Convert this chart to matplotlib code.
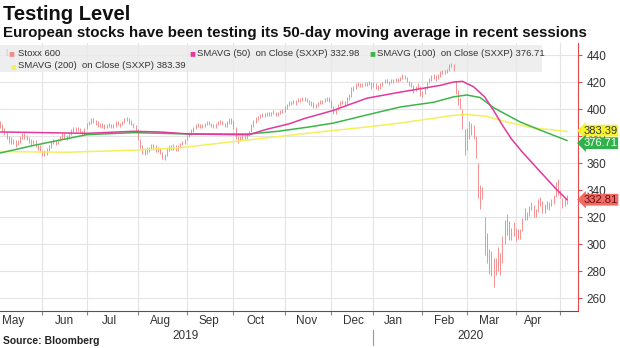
import matplotlib
matplotlib.use("Agg")
import matplotlib.pyplot as plt
import matplotlib.transforms as mtransforms
from matplotlib.patches import Rectangle
import numpy as np
import pandas as pd

plt.rcParams['font.family'] = ['Liberation Sans', 'DejaVu Sans']

# Stoxx 600 daily highs and lows
high = [
    391, 389, 386, 383, 380, 379, 378, 377, 377, 380, 382, 382, 381, 379, 378, 377, 377, 374, 373,  # May 19
    370, 370, 371, 373, 376, 378, 377, 378, 380, 382, 382, 381, 383, 385, 387, 387, 387, 386, 384, 386,  # Jun
    390, 391, 393, 393, 392, 391, 390, 390, 389, 389, 390, 389, 389, 391, 391, 390, 391, 393, 394, 393, 392, 390, 388,  # Jul
    385, 378, 373, 371, 372, 372, 374, 374, 373, 372, 371, 368, 367, 371, 373, 373, 374, 373, 373, 375, 376, 378,  # Aug
    381, 383, 385, 387, 389, 390, 389, 389, 390, 391, 391, 390, 389, 390, 391, 392, 391, 390, 391, 393, 393,  # Sep
    392, 387, 380, 380, 381, 381, 382, 384, 389, 392, 394, 395, 396, 397, 397, 398, 398, 398, 399, 398, 398, 399, 400,  # Oct
    402, 404, 406, 406, 407, 407, 408, 408, 409, 409, 408, 407, 406, 405, 404, 405, 407, 407, 408, 409, 409,  # Nov
    407, 402, 400, 404, 406, 407, 406, 409, 411, 416, 417, 419, 420, 419, 419, 420, 420, 421, 420,  # Dec
    420, 419, 418, 419, 420, 422, 422, 421, 422, 422, 423, 423, 424, 426, 425, 424, 421, 420, 418, 417, 419, 417,  # Jan 20
    413, 416, 420, 423, 425, 426, 425, 426, 428, 429, 429, 430, 433, 434, 433, 421, 414, 408, 400, 385,  # Feb
    386, 391, 390, 388, 380, 360, 344, 342, 320, 308, 296, 295, 290, 290, 298, 293, 306, 318, 322, 317, 312, 316,  # Mar
    312, 311, 311, 319, 327, 324, 328, 331, 329, 326, 333, 335, 332, 330, 332, 331, 333, 336, 346, 348,  # Apr
    340, 334, 334, 336,  # May 20
]
low = [
    386, 384, 381, 378, 375, 374, 374, 372, 373, 375, 378, 378, 377, 375, 373, 374, 372, 370, 368,
    365, 365, 366, 369, 371, 374, 373, 374, 376, 378, 378, 377, 378, 381, 383, 383, 384, 382, 380, 381,
    385, 388, 389, 390, 388, 387, 387, 386, 385, 386, 387, 386, 386, 387, 388, 387, 388, 390, 391, 389, 388, 386, 383,
    377, 371, 367, 366, 367, 368, 370, 370, 368, 368, 367, 363, 362, 365, 369, 370, 370, 369, 369, 371, 373, 374,
    377, 379, 381, 383, 385, 387, 386, 386, 387, 388, 388, 387, 386, 386, 388, 389, 388, 387, 387, 389, 389,
    385, 378, 375, 376, 377, 377, 378, 380, 383, 387, 390, 392, 393, 394, 394, 395, 395, 395, 396, 395, 395, 396, 397,
    398, 400, 402, 403, 404, 403, 405, 405, 406, 406, 405, 403, 402, 401, 401, 402, 404, 404, 405, 406, 405,
    401, 396, 396, 399, 402, 404, 403, 404, 407, 409, 413, 415, 417, 416, 416, 417, 417, 418, 415,
    416, 415, 414, 415, 417, 419, 419, 418, 419, 419, 420, 420, 421, 422, 422, 420, 417, 416, 412, 413, 415, 410,
    409, 411, 415, 419, 421, 422, 421, 422, 424, 426, 426, 427, 428, 431, 428, 411, 403, 400, 385, 366,
    370, 378, 381, 378, 364, 334, 326, 333, 292, 286, 278, 276, 268, 277, 280, 277, 286, 300, 307, 303, 303, 306,
    302, 304, 304, 310, 318, 318, 321, 325, 320, 320, 324, 328, 323, 323, 326, 325, 328, 330, 335, 336,
    334, 327, 328, 330,
]

# moving averages, sampled along the lines (trading-day number, level)
sma50_day = [0, 20, 39, 60, 72, 85, 105, 112, 120, 130, 137, 150, 165, 180, 198, 204, 208, 213, 218, 222, 226, 230, 235, 240, 245, 250, 255]
sma50_val = [383, 382.5, 382, 383.5, 383, 381.5, 381, 381, 385, 389, 393, 399, 408, 412.5, 417.5, 420, 420.5, 416.5, 409, 399, 388, 378, 368, 359, 350, 341, 332.98]
sma100_day = [0, 15, 30, 39, 60, 85, 112, 125, 139, 150, 165, 180, 195, 204, 210, 216, 222, 234, 243, 255]
sma100_val = [367.4, 373, 378, 381, 382.5, 381.5, 381.5, 383.5, 386.7, 389.6, 395.6, 401.5, 405, 409, 410.4, 408.5, 401, 390.4, 384.4, 376.71]
sma200_day = [0, 30, 60, 82, 103, 139, 165, 180, 204, 210, 219, 228, 240, 255]
sma200_val = [368.5, 368, 369.5, 371.5, 375.5, 382.2, 386.7, 389.6, 395.3, 396, 394.5, 390.4, 386, 383.39]

last_close = 332.81
holidays = ['2019-12-24', '2019-12-25', '2019-12-26', '2020-01-01',
            '2020-04-10', '2020-04-13', '2020-05-01']
dates = pd.bdate_range('2019-05-07', periods=len(high), freq='C', holidays=holidays)

RED = '#f28a8a'
MAGENTA = '#e3389c'
GREEN = '#3db54a'
YELLOW = '#f4ef5c'

W, H = 620, 348
fig = plt.figure(figsize=(W / 100, H / 100), dpi=100)
ax = fig.add_axes([0, 1 - 311 / H, 578 / W, (311 - 43) / H])

x = np.arange(len(high))
ax.vlines(x, low, high, color=RED, lw=0.65, zorder=3)
ax.plot(sma200_day, sma200_val, color=YELLOW, lw=1.1, zorder=4)
ax.plot(sma100_day, sma100_val, color=GREEN, lw=1.1, zorder=4)
ax.plot(sma50_day, sma50_val, color=MAGENTA, lw=1.1, zorder=4)

ax.set_xlim(0, 260)
ax.set_ylim(250.4, 448.9)

# month boundaries / labels
months = dates.to_period('M')
starts = [i for i in range(1, len(dates)) if months[i] != months[i - 1]]
mids, names = [], []
for m in months.unique():
    mid = np.searchsorted(dates, pd.Timestamp(year=m.year, month=m.month, day=15))
    if mid < len(dates) - 8:
        mids.append(mid)
        names.append(m.strftime('%b'))
ax.set_xticks(starts)
ax.set_xticklabels([])
ax.set_xticks(mids, minor=True)
ax.set_xticklabels(names, minor=True)
ax.tick_params(axis='x', which='major', length=3, color='#888888', direction='out')
ax.tick_params(axis='x', which='minor', length=0, pad=3, labelsize=8.5, labelcolor='#333333')

ax.yaxis.tick_right()
ax.set_yticks(range(260, 441, 20))
ax.tick_params(axis='y', length=3, color='#e84a4a', labelsize=8.5, labelcolor='#333333', pad=3)

ax.set_axisbelow(True)
ax.grid(True, which='major', color='#e4e4e4', lw=0.8)
for s in ['left', 'top']:
    ax.spines[s].set_visible(False)
ax.spines['right'].set_color('#e84a4a')
ax.spines['bottom'].set_color('#555555')

# year labels
trans = mtransforms.blended_transform_factory(ax.transData, ax.transAxes)
years = dates.year
for yr in sorted(set(years)):
    idx = np.where(years == yr)[0]
    ax.text(idx.mean(), -0.092, str(yr), transform=trans, ha='center', va='center',
            fontsize=8.5, color='#333333')
jan = np.where(years == 2020)[0][0]
ax.plot([jan, jan], [-0.07, -0.125], transform=trans, color='#999999', lw=0.8, clip_on=False)

# legend box
ax.add_patch(Rectangle((0, 1 - 72 / H), 542 / W, 27 / H, transform=fig.transFigure,
                       facecolor='#ebebeb', edgecolor='none', alpha=0.85, zorder=1))

def px(xp, yp):
    return xp / W, 1 - yp / H

lfont = dict(fontsize=6.8, color='#333333', va='center')
fig.text(*px(6, 53), '|', fontsize=6, color='#bbbbbb', va='center', ha='center')
fig.text(*px(8, 53), '■', fontsize=7, color=RED, va='center')
fig.text(*px(18, 53), 'Stoxx 600', **lfont)
fig.text(*px(189, 53), '■', fontsize=7, color=MAGENTA, va='center')
fig.text(*px(197, 53), 'SMAVG (50)  on Close (SXXP) 332.98', **lfont)
fig.text(*px(369, 53), '■', fontsize=7, color=GREEN, va='center')
fig.text(*px(377, 53), 'SMAVG (100)  on Close (SXXP) 376.71', **lfont)
fig.text(*px(10, 66), '■', fontsize=7, color=YELLOW, va='center')
fig.text(*px(18, 66), 'SMAVG (200)  on Close (SXXP) 383.39', **lfont)

# last value tags
rt = mtransforms.blended_transform_factory(ax.transAxes, ax.transData)
tags = [(sma200_val[-1] + 0.6, '383.39', '#f7f230', '#333333'),
        (sma100_val[-1] - 2.0, '376.71', '#2fb24a', 'white'),
        (last_close, '332.81', '#f06a66', '#6a1010')]
for yv, s, fc, tc in tags:
    ax.text(1.009, yv, s, transform=rt, ha='left', va='center', fontsize=8, color=tc,
            clip_on=False, zorder=6,
            bbox=dict(boxstyle='larrow,pad=0.08', fc=fc, ec='none'))

fig.text(*px(3, 15), 'Testing Level', fontsize=14.5, fontweight='bold', color='#111111', va='center')
fig.text(*px(3, 33), 'European stocks have been testing its 50-day moving average in recent sessions',
         fontsize=10.9, fontweight='bold', color='#111111', va='center')
fig.text(*px(3, 341), 'Source: Bloomberg', fontsize=7.5, fontweight='bold', color='#222222', va='center')

fig.savefig('out.png', dpi=100)
